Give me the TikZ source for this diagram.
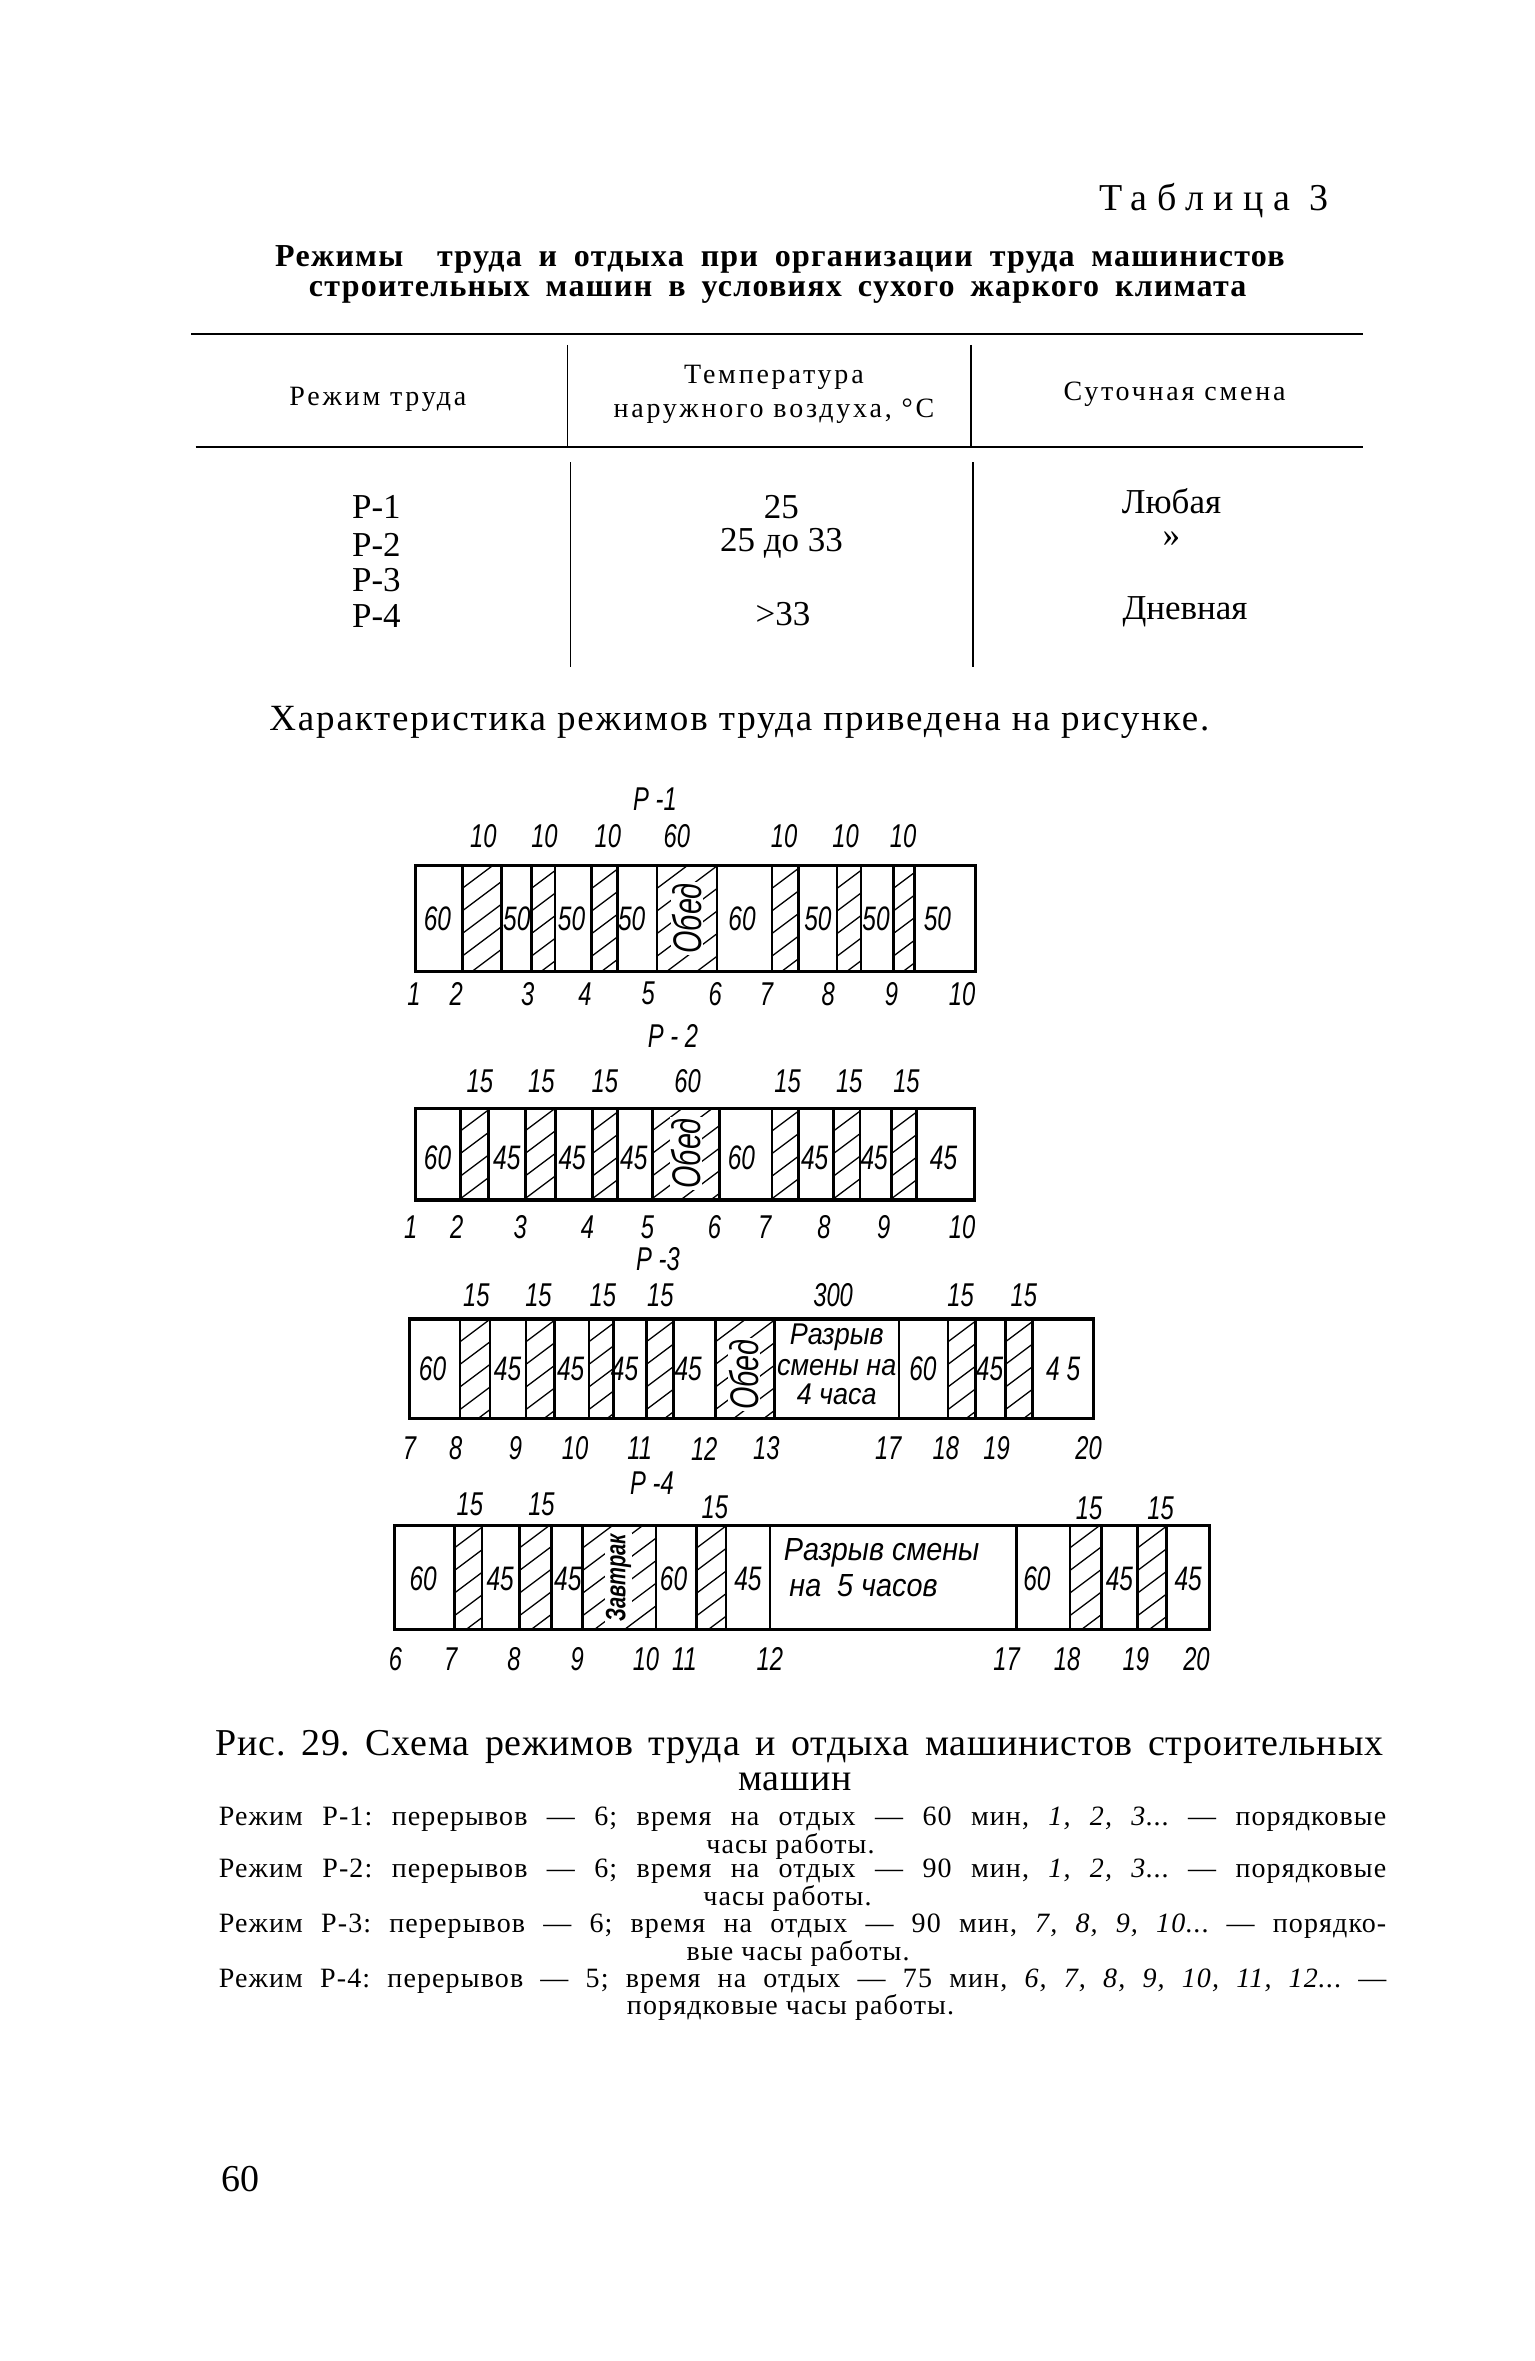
\documentclass[tikz,border=0pt]{standalone}
\usepackage{fontspec}
\setmainfont{Liberation Serif}
\newfontfamily\dfont{Liberation Sans}[FakeStretch=0.72]
\newfontfamily\dfontb{Liberation Sans}[FakeStretch=0.9]
\newcommand\fs[1]{\fontsize{#1}{#1}\selectfont}
\newcommand\hatchcell[4]{%
  \begin{scope}
    \clip (#1,#3) rectangle (#2,#4);
    \foreach \k in {0,...,11} \draw[hl] (#1,#3+\k*15) -- ++(70,-52.5);
  \end{scope}}
\frenchspacing
\begin{document}
\begin{tikzpicture}[x=0.7532pt,y=-0.7532pt,
  lab/.style={inner sep=0pt, font=\dfont\itshape\fs{16.5}},
  num/.style={inner sep=0pt, font=\dfont\itshape\fs{17}},
  rot/.style={rotate=90, fill=white, inner sep=0.6pt, font=\dfont\itshape\fs{20}},
  gap/.style={inner sep=0pt, font=\dfontb\itshape\fs{15}, align=center},
  hl/.style={line width=0.65pt},
  frame/.style={line width=1.6pt},
  div/.style={line width=1.3pt},
  rule/.style={line width=1.2pt},
  vline/.style={line width=0.8pt},
  body/.style={inner sep=0pt, font=\fs{17.5}},
  head/.style={inner sep=0pt, font={\addfontfeature{LetterSpace=10}\fs{14}}, align=center},
  captxt/.style={inner sep=0pt, font={\addfontfeature{LetterSpace=4}\fs{14}}},
]
\useasboundingbox (0,0) rectangle (1019,1568);
\fill[white] (0,0) rectangle (1019,1568);

% ---------- heading ----------
\node[inner sep=0pt, font={\addfontfeature{LetterSpace=25}\fs{19}}] (tabno) at (806,133) {Таблица 3};
\node[inner sep=0pt, font={\bfseries\addfontfeature{LetterSpace=4}\fs{16}}] (title1) at (518,172) {\hbox to 505pt{Режимы\ \ труда и отдыха при организации труда машинистов}};
\node[inner sep=0pt, font={\bfseries\addfontfeature{LetterSpace=4}\fs{16}}] (title2) at (516.5,194) {\hbox to 469pt{строительных машин в условиях сухого жаркого климата}};

% ---------- table ----------
\coordinate (r1a) at (127,222); \coordinate (r1b) at (905,222);
\coordinate (r2a) at (130,297); \coordinate (r2b) at (905,297);
\draw[rule] (r1a) -- (r1b);
\draw[rule] (r2a) -- (r2b);
\coordinate (hv1a) at (377,229); \coordinate (hv1b) at (377,296);
\coordinate (hv2a) at (645,229); \coordinate (hv2b) at (645,296);
\coordinate (bv1a) at (379,307); \coordinate (bv1b) at (379,443);
\coordinate (bv2a) at (646,307); \coordinate (bv2b) at (646,443);
\draw[vline] (hv1a) -- (hv1b);
\draw[vline] (hv2a) -- (hv2b);
\draw[vline] (bv1a) -- (bv1b);
\draw[vline] (bv2a) -- (bv2b);
\node[head] (h1) at (251,265) {Режим труда};
\node[head] (h2) at (514,262) {Температура\\[3pt]наружного воздуха, °C};
\node[head] (h3) at (780,262) {Суточная смена};
\node[body] (m1) at (250,337) {Р-1};
\node[body] (m2) at (250,362) {Р-2};
\node[body] (m3) at (250,385) {Р-3};
\node[body] (m4) at (250,409) {Р-4};
\node[body] (t1) at (519,337) {25};
\node[body] (t2) at (519,361) {25 до 33};
\node[body] (t4) at (520,408) {>33};
\node[body] (s1) at (778,333) {Любая};
\node[body] (s2) at (778,358) {»};
\node[body] (s4) at (787,406) {Дневная};
\node[inner sep=0pt, font={\addfontfeature{LetterSpace=5}\fs{18.5}}] (intro) at (491,480) {Характеристика режимов труда приведена на рисунке.};

% ---------- P-1 ----------
\foreach \a/\b in {307/333,352.9/368.6,393/410.1,436.3/476.2,512.6/530.4,555.9/571.7,593.3/607.3}{\hatchcell{\a}{\b}{575}{645}}
\draw[frame] (276,575) rectangle (648,645);
\foreach \x in {307,333,352.9,368.6,393,410.1,436.3,476.2,512.6,530.4,555.9,571.7,593.3,607.3} \draw[div] (\x,575) -- (\x,645);
\foreach \x/\t [count=\i] in {290.5/60,343.2/50,379.6/50,419.5/50,492.8/60,543.2/50,581.8/50,622.6/50} \node[num] (p1c\i) at (\x,610) {\t};
\node[rot] (p1ob) at (456,610) {Обед};
\foreach \x/\t [count=\i] in {321/10,361.6/10,403.7/10,449.5/60,520.8/10,561.6/10,599.7/10} \node[lab] (p1t\i) at (\x,555) {\t};
\foreach \x/\t [count=\i] in {275/1,303/2,350.4/3,388.5/4,430.5/5,475/6,509/7,550/8,592/9,639/10} \node[lab] (p1b\i) at (\x,660) {\t};
\node[lab] (p1) at (435,531) {Р -1};

% ---------- P-2 ----------
\foreach \a/\b in {305.9/324.6,348.8/369.0,393.5/409.9,433.2/477.9,512.8/530.2,553.7/571.1,592.1/608.7}{\hatchcell{\a}{\b}{736}{797}}
\draw[frame] (276,736) rectangle (647,797);
\foreach \x in {305.9,324.6,348.8,369.0,393.5,409.9,433.2,477.9,512.8,530.2,553.7,571.1,592.1,608.7} \draw[div] (\x,736) -- (\x,797);
\foreach \x/\t [count=\i] in {290.6/60,336.6/45,380/45,420.9/45,492.4/60,541/45,580.6/45,626.6/45} \node[num] (p2c\i) at (\x,769) {\t};
\node[rot] (p2ob) at (455.5,766) {Обед};
\foreach \x/\t [count=\i] in {318.7/15,359.5/15,401.7/15,456.6/60,523/15,564/15,602/15} \node[lab] (p2t\i) at (\x,718) {\t};
\foreach \x/\t [count=\i] in {272.7/1,303.3/2,345.5/3,390.2/4,430/5,474.5/6,507.8/7,547.3/8,586.9/9,639/10} \node[lab] (p2b\i) at (\x,815) {\t};
\node[lab] (p2) at (447,688) {Р - 2};

% ---------- P-3 ----------
\foreach \a/\b in {305.6/325.5,349.4/368.3,391.2/407.4,429.4/447.2,475.3/514.4,629.7/648.0,667.9/685.6}{\hatchcell{\a}{\b}{876}{942}}
\draw[frame] (272,876) rectangle (726,942);
\foreach \x in {305.6,325.5,349.4,368.3,391.2,407.4,429.4,447.2,475.3,514.4,597.0,629.7,648.0,667.9,685.6} \draw[div] (\x,876) -- (\x,942);
\foreach \x/\t [count=\i] in {287.3/60,337.1/45,379/45,414.8/45,457/45,612.9/60,657.2/45,706.1/{4 5}} \node[num] (p3c\i) at (\x,909) {\t};
\node[rot] (p3ob) at (494,913) {Обед};
\node[gap] (p3g1) at (555.7,888) {Разрыв};
\node[gap] (p3g2) at (555.7,908) {смены на};
\node[gap] (p3g3) at (555.7,926) {4 часа};
\foreach \x/\t [count=\i] in {316.3/15,357.6/15,400.4/15,438.6/15,553.3/300,637.9/15,680/15} \node[lab] (p3t\i) at (\x,860) {\t};
\foreach \x/\t [count=\i] in {272/7,302.6/8,342.3/9,382/10,424.9/11,467.7/12,509/13,589.9/17,628.2/18,661.8/19,723/20} \node[lab] (p3b\i) at (\x,962) {\t};
\node[lab] (p3) at (437,836) {Р -3};

% ---------- P-4 ----------
\foreach \a/\b in {301.8/320.1,345.0/366.2,387.0/435.6,462.7/482.1,710.5/731.7,755.5/774.5}{\hatchcell{\a}{\b}{1013}{1082}}
\draw[frame] (262,1013) rectangle (803,1082);
\foreach \x in {301.8,320.1,345.0,366.2,387.0,435.6,462.7,482.1,511.3,675.0,710.5,731.7,755.5,774.5} \draw[div] (\x,1013) -- (\x,1082);
\foreach \x/\t [count=\i] in {281/60,332.2/45,377.1/45,447.3/60,496.7/45,688.6/60,743.4/45,789.1/45} \node[num] (p4c\i) at (\x,1048.6) {\t};
\node[rot, font=\dfont\itshape\bfseries\fs{14}] (p4zv) at (410.8,1048) {Завтрак};
\node[gap, anchor=west, font=\dfontb\itshape\fs{16}] (p4g1) at (520.4,1031) {Разрыв смены};
\node[gap, anchor=west, font=\dfontb\itshape\fs{16}] (p4g2) at (524,1053) {на~~5 часов};
\foreach \x/\y/\t [count=\i] in {312.1/999/15,359.6/999/15,474.8/1001/15,723.3/1002/15,770.8/1002/15} \node[lab] (p4t\i) at (\x,\y) {\t};
\foreach \x/\t [count=\i] in {262.7/6,299.3/7,341.3/8,383.4/9,429/10,454.6/11,511.3/12,668.5/17,708.7/18,754.4/19,794.6/20} \node[lab] (p4b\i) at (\x,1102) {\t};
\node[lab] (p4) at (433,985) {Р -4};

% ---------- caption ----------
\node[inner sep=0pt, font={\addfontfeature{LetterSpace=2}\fs{19}}] (fig) at (531,1160) {\hbox to 584pt{Рис. 29. Схема режимов труда и отдыха машинистов строительных}};
\node[inner sep=0pt, font={\addfontfeature{LetterSpace=2}\fs{19}}] (fig2) at (528,1183) {машин};
\node[captxt] (c1) at (533,1208) {\hbox to 584pt{Режим Р-1: перерывов — 6; время на отдых — 60 мин, \textit{1, 2, 3}... — порядковые}};
\node[captxt] (c1b) at (525,1226) {часы работы.};
\node[captxt] (c2) at (533,1243) {\hbox to 584pt{Режим Р-2: перерывов — 6; время на отдых — 90 мин, \textit{1, 2, 3}... — порядковые}};
\node[captxt] (c2b) at (523,1261) {часы работы.};
\node[captxt] (c3) at (533,1279) {\hbox to 584pt{Режим Р-3: перерывов — 6; время на отдых — 90 мин, \textit{7, 8, 9, 10}... — порядко-}};
\node[captxt] (c3b) at (530,1297) {вые часы работы.};
\node[captxt] (c4) at (533,1316) {\hbox to 584pt{Режим Р-4: перерывов — 5; время на отдых — 75 мин, \textit{6, 7, 8, 9, 10, 11, 12}... —}};
\node[captxt] (c4b) at (525,1333) {порядковые часы работы.};

\node[inner sep=0pt, font=\fs{19}] (page) at (160,1447) {60};
\end{tikzpicture}
\end{document}
